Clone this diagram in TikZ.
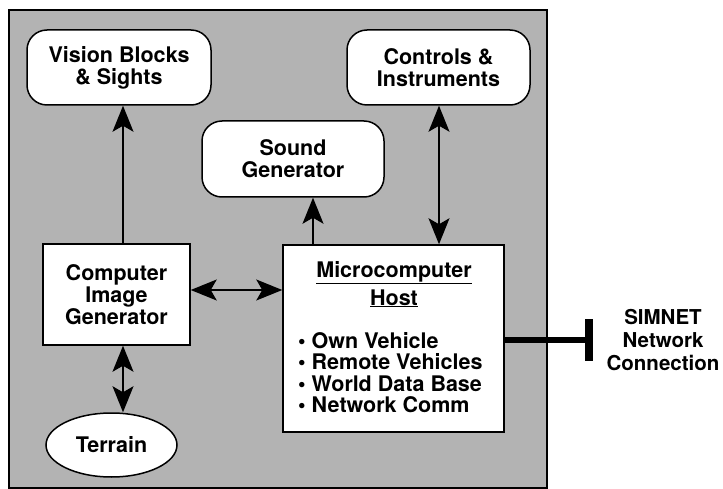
\documentclass[tikz,border=0pt]{standalone}
\usepackage{fontspec}
\setmainfont{TeX Gyre Heros}
\usetikzlibrary{arrows.meta,shapes.geometric}
\definecolor{bg}{RGB}{179,179,179}
\begin{document}
\begin{tikzpicture}[x=1pt,y=-1pt,
  every node/.style={font=\fontsize{21.5}{22}\selectfont\bfseries},
  rbox/.style={draw,line width=1.5pt,fill=white,rounded corners=20pt,align=center,inner sep=0pt},
  sbox/.style={draw,line width=1.5pt,fill=white,align=center,inner sep=0pt},
  tip/.tip={Stealth[length=26pt,width=21pt,inset=6pt]},
  arr/.style={line width=1.3pt,-tip},
  darr/.style={line width=1.3pt,tip-tip},
  listline/.style={anchor=base west,inner sep=0pt},
]
\useasboundingbox (0,0) rectangle (723,489);
\fill[bg] (9,10) rectangle (547,488);
\draw[line width=1.5pt] (9,10) rectangle (547,488);

\node[rbox,minimum width=184pt,minimum height=75pt] (vis) at (119,67.5) {Vision Blocks\\\& Sights};
\node[rbox,minimum width=183pt,minimum height=75pt] (ctl) at (438.5,67.5) {Controls \&\\Instruments};
\node[rbox,minimum width=182pt,minimum height=76pt] (snd) at (293,159) {Sound\\Generator};
\node[sbox,minimum width=147pt,minimum height=101pt] (cig) at (116.5,294.5) {Computer\\Image\\Generator};
\node[sbox,minimum width=221pt,minimum height=187pt] (host) at (393.5,338.5) {};
\node[ellipse,draw,line width=1.5pt,fill=white,minimum width=131pt,minimum height=64pt,inner sep=0pt] (ter) at (111.5,445) {\raisebox{2pt}{Terrain}};

\node[anchor=base,inner sep=0pt] (ht1) at (394,277) {\underline{Microcomputer}};
\node[anchor=base,inner sep=0pt] (ht2) at (394,305) {\underline{Host}};
\node[listline] (l1) at (298,348) {\textbullet\ Own Vehicle};
\node[listline] (l2) at (298,369.5) {\textbullet\ Remote Vehicles};
\node[listline] (l3) at (298,391) {\textbullet\ World Data Base};
\node[listline] (l4) at (298,412.5) {\textbullet\ Network Comm};

\coordinate (xa) at (123,0);
\coordinate (xs) at (313,0);
\coordinate (xc) at (439,0);
\coordinate (yh) at (0,290);
\coordinate (ys) at (0,340);
\coordinate (bar) at (589,340);
\coordinate (bart) at (589,319);
\coordinate (barb) at (589,361);

\draw[arr] (cig.north -| xa) -- (vis.south -| xa);
\draw[darr] (cig.south -| xa) -- (ter.north -| xa);
\draw[arr] (host.north -| xs) -- (snd.south -| xs);
\draw[darr] (ctl.south -| xc) -- (host.north -| xc);
\draw[darr] (cig.east |- yh) -- (host.west |- yh);
\draw[line width=6.5pt] (host.east |- ys) -- (bar);
\draw[line width=7.5pt] (bart) -- (barb);

\node[align=center,font=\fontsize{20.5}{23}\selectfont\bfseries] (sim) at (663,340) {SIMNET\\Network\\Connection};
\end{tikzpicture}
\end{document}
